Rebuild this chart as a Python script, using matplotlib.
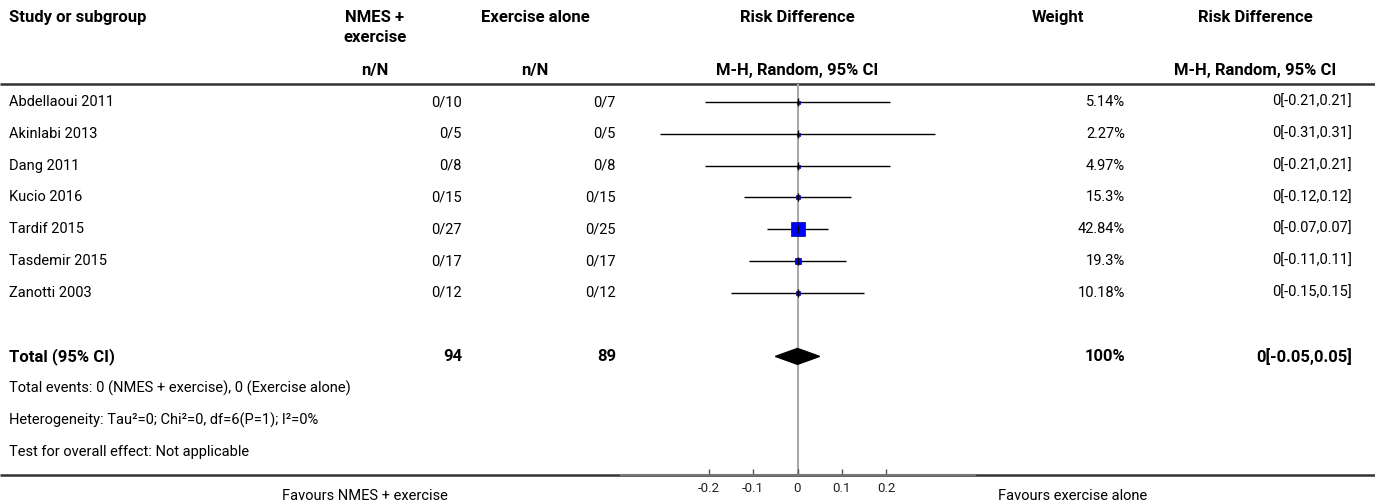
import numpy as np
import matplotlib
matplotlib.use("Agg")
import matplotlib.pyplot as plt
from matplotlib.patches import Polygon

plt.rcParams['font.family'] = ['Roboto', 'DejaVu Sans']

# === Daten ===
studies = ['Abdellaoui 2011', 'Akinlabi 2013', 'Dang 2011', 'Kucio 2016',
           'Tardif 2015', 'Tasdemir 2015', 'Zanotti 2003']
nmes_nN = ['0/10', '0/5', '0/8', '0/15', '0/27', '0/17', '0/12']
ex_nN = ['0/7', '0/5', '0/8', '0/15', '0/25', '0/17', '0/12']
rd = [0, 0, 0, 0, 0, 0, 0]
ci_low = [-0.21, -0.31, -0.21, -0.12, -0.07, -0.11, -0.15]
ci_high = [0.21, 0.31, 0.21, 0.12, 0.07, 0.11, 0.15]
weights = [5.14, 2.27, 4.97, 15.3, 42.84, 19.3, 10.18]
weight_labels = ['5.14%', '2.27%', '4.97%', '15.3%', '42.84%', '19.3%', '10.18%']
rd_labels = ['0[-0.21,0.21]', '0[-0.31,0.31]', '0[-0.21,0.21]', '0[-0.12,0.12]',
             '0[-0.07,0.07]', '0[-0.11,0.11]', '0[-0.15,0.15]']

total_nmes = 94
total_ex = 89
total_rd = 0
total_low = -0.05
total_high = 0.05
total_weight = '100%'
total_label = '0[-0.05,0.05]'

info_lines = ['Total events: 0 (NMES + exercise), 0 (Exercise alone)',
              'Heterogeneity: Tau\u00b2=0; Chi\u00b2=0, df=6(P=1); I\u00b2=0%',
              'Test for overall effect: Not applicable']

xticks = [-0.2, -0.1, 0, 0.1, 0.2]
xtick_labels = ['-0.2', '-0.1', '0', '0.1', '0.2']

# === Layout (Pixel-Koordinaten) ===
W, H = 1375, 504
row0_px, row_px = 102, 31.8
def px2row(p):
    return (p - row0_px) / row_px

fig = plt.figure(figsize=(W / 100, H / 100), dpi=100)
ax = fig.add_axes([0, 0, 1, 1])
ax.set_xlim(0, W)
ax.set_ylim(px2row(H), px2row(0))
ax.axis('off')

fs = 10.5    # normaler Text
fb = 12      # fetter Text
col_study = 9
col_nmes = 462
col_ex = 616
col_w = 1125
col_rd = 1352

# Kopfzeile
hy1, hy2, hy3 = px2row(17), px2row(37), px2row(70)
hdr = dict(fontsize=fb, fontweight='bold', va='center', ha='center')
ax.text(col_study, hy1, 'Study or subgroup', fontsize=fb, fontweight='bold', va='center')
ax.text(375, hy1, 'NMES +', **hdr)
ax.text(375, hy2, 'exercise', **hdr)
ax.text(375, hy3, 'n/N', **hdr)
ax.text(535, hy1, 'Exercise alone', **hdr)
ax.text(535, hy3, 'n/N', **hdr)
ax.text(797, hy1, 'Risk Difference', **hdr)
ax.text(797, hy3, 'M-H, Random, 95% CI', **hdr)
ax.text(1058, hy1, 'Weight', **hdr)
ax.text(1255, hy1, 'Risk Difference', **hdr)
ax.text(1255, hy3, 'M-H, Random, 95% CI', **hdr)

line_top = px2row(84)
line_bot = px2row(475)
ax.plot([0, W], [line_top, line_top], color='#333333', lw=1.8, solid_capstyle='butt')
ax.plot([0, W], [line_bot, line_bot], color='#333333', lw=1.8, solid_capstyle='butt')

# Studienzeilen
for i, s in enumerate(studies):
    ax.text(col_study, i, s, fontsize=fs, va='center')
    ax.text(col_nmes, i, nmes_nN[i], fontsize=fs, va='center', ha='right')
    ax.text(col_ex, i, ex_nN[i], fontsize=fs, va='center', ha='right')
    ax.text(col_w, i, weight_labels[i], fontsize=fs, va='center', ha='right')
    ax.text(col_rd, i, rd_labels[i], fontsize=fs, va='center', ha='right')

tot = len(studies) + 1
ax.text(col_study, tot, 'Total (95% CI)', fontsize=fb, fontweight='bold', va='center')
ax.text(col_nmes, tot, str(total_nmes), fontsize=fb, fontweight='bold', va='center', ha='right')
ax.text(col_ex, tot, str(total_ex), fontsize=fb, fontweight='bold', va='center', ha='right')
ax.text(col_w, tot, total_weight, fontsize=fb, fontweight='bold', va='center', ha='right')
ax.text(col_rd, tot, total_label, fontsize=fb, fontweight='bold', va='center', ha='right')
for k, t in enumerate(info_lines):
    ax.text(col_study, tot + 1 + k, t, fontsize=fs, va='center')

ax.text(448, px2row(496), 'Favours NMES + exercise', fontsize=fs, va='center', ha='right')
ax.text(998, px2row(496), 'Favours exercise alone', fontsize=fs, va='center', ha='left')

# === Forest-Plot ===
fx0, fx1 = 620.5, 974.5
fax = fig.add_axes([fx0 / W, 1 - 475 / H, (fx1 - fx0) / W, (475 - 84) / H])
fax.patch.set_alpha(0)
fax.set_xlim(-0.4, 0.4)
fax.set_ylim(line_bot, line_top)
for sp in ['left', 'right', 'top']:
    fax.spines[sp].set_visible(False)
fax.spines['bottom'].set_color('#777777')
fax.spines['bottom'].set_linewidth(1.5)
fax.set_yticks([])
fax.set_xticks(xticks)
fax.set_xticklabels(xtick_labels)
fax.tick_params(axis='x', direction='in', length=4, width=1, color='#555555',
                labelsize=9.5, pad=5, labelcolor='#222222')
fax.axvline(0, color='#aaaaaa', lw=1.5, zorder=1)

ys = np.arange(len(studies))
fax.hlines(ys, ci_low, ci_high, color='black', lw=1, zorder=2)
for i in range(len(studies)):
    side = max(3.0, 14 * weights[i] / max(weights)) * 0.72
    fax.plot(rd[i], ys[i], marker='s', ms=side, color='#0000ff', mec='#000080',
             mew=0.5, zorder=3)
    fax.plot(rd[i], ys[i], marker='|', ms=6, color='black', mew=1, zorder=4)

diamond = Polygon([(total_low, tot), (total_rd, tot - 0.25),
                   (total_high, tot), (total_rd, tot + 0.25)],
                  closed=True, color='black', zorder=3)
fax.add_patch(diamond)

fig.savefig('out.png', dpi=100)
